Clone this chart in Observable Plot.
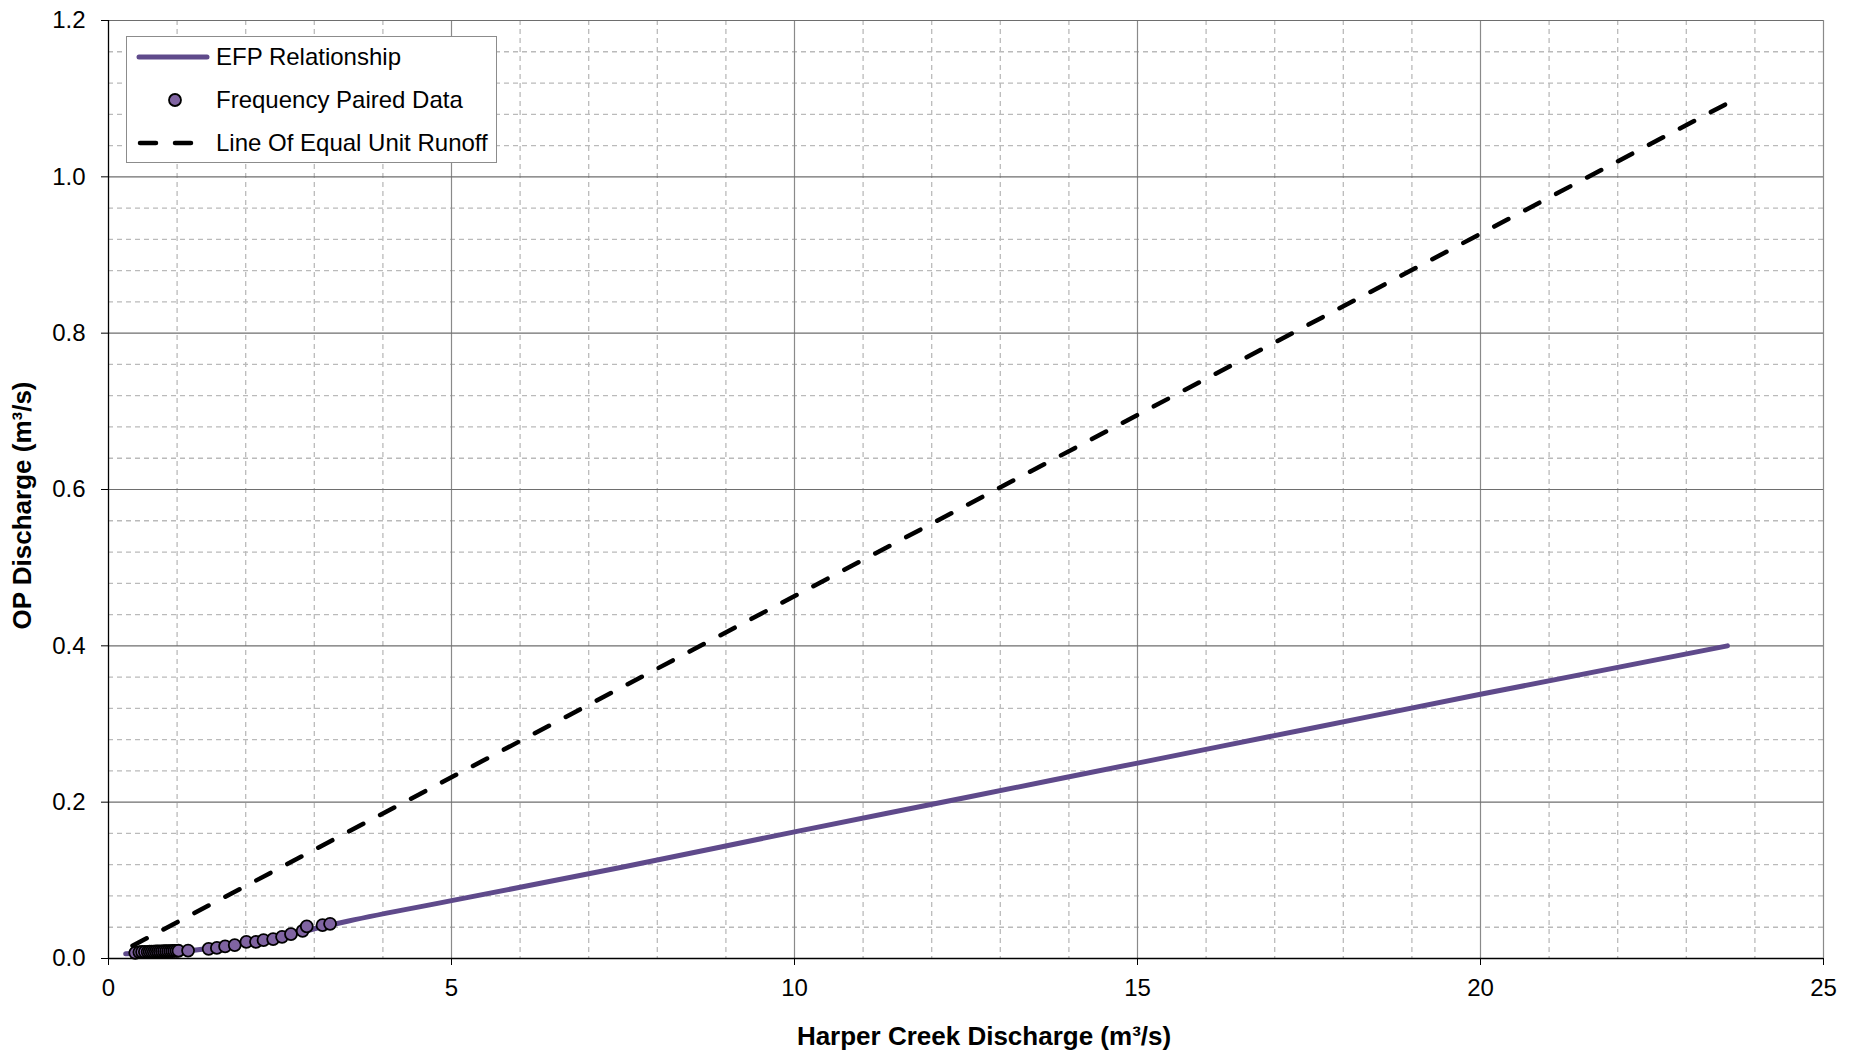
<!DOCTYPE html>
<html>
<head>
<meta charset="utf-8">
<script src="https://cdn.jsdelivr.net/npm/d3@7"></script>
<script src="https://cdn.jsdelivr.net/npm/@observablehq/plot@0.6"></script>
<style>
  html, body { margin: 0; padding: 0; background: #fff; }
  #wrap { position: relative; width: 1854px; height: 1055px; font-family: "Liberation Sans", Arial, sans-serif; }
  #legend { position: absolute; left: 126px; top: 36px; }
</style>
</head>
<body>
<div id="wrap"><div id="chart"></div><div id="legend"></div></div>
<script>
// ---- data ----
const seriesNames = ["EFP Relationship", "Frequency Paired Data", "Line Of Equal Unit Runoff"];

const efpX = [0.25, 0.5, 1.0, 1.5, 2.0, 2.5, 3.0, 3.5, 5, 7.5, 10, 12.5, 15, 17.5, 20, 23.6];
const efpY = [0.006, 0.007, 0.009, 0.013, 0.020, 0.027, 0.038, 0.048, 0.074, 0.117, 0.162, 0.206, 0.250, 0.294, 0.338, 0.400];

const pairedX = [0.39, 0.45, 0.49, 0.53, 0.57, 0.60, 0.63, 0.66, 0.69, 0.72, 0.75, 0.78, 0.81, 0.84, 0.87, 0.90, 0.93, 0.96, 0.99, 1.02, 1.16,
                 1.46, 1.58, 1.70, 1.84, 2.01, 2.15, 2.26, 2.40, 2.53, 2.66, 2.83, 2.89, 3.12, 3.23];
const pairedY = [0.0073, 0.0082, 0.0084, 0.0085, 0.0086, 0.0087, 0.0088, 0.0089, 0.0090, 0.0090, 0.0091, 0.0092, 0.0093, 0.0093, 0.0094, 0.0095, 0.0096, 0.0097, 0.0098, 0.0099, 0.0102,
                 0.0124, 0.0135, 0.0155, 0.0172, 0.0212, 0.0213, 0.0235, 0.0248, 0.0277, 0.0313, 0.0354, 0.0411, 0.0426, 0.0443];

const equalX = [0.35, 23.6];
const equalY = [0.0163, 1.094];

const xMajorTicks = [0, 5, 10, 15, 20, 25];
const yMajorTicks = [0, 0.2, 0.4, 0.6, 0.8, 1.0, 1.2];
const xMinorTicks = [1, 2, 3, 4, 6, 7, 8, 9, 11, 12, 13, 14, 16, 17, 18, 19, 21, 22, 23, 24];
const yMinorTicks = [0.04, 0.08, 0.12, 0.16, 0.24, 0.28, 0.32, 0.36, 0.44, 0.48, 0.52, 0.56, 0.64, 0.68, 0.72, 0.76,
                     0.84, 0.88, 0.92, 0.96, 1.04, 1.08, 1.12, 1.16];

const xTitle = "Harper Creek Discharge (m³/s)";
const yTitle = "OP Discharge (m³/s)";

// ---- tables ----
const efp = efpX.map((x, i) => ({x, y: efpY[i]}));
const paired = pairedX.map((x, i) => ({x, y: pairedY[i]}));
const equal = equalX.map((x, i) => ({x, y: equalY[i]}));

const purpleLine = "#5f4a8b";
const purpleFill = "#8064a2";

const chart = Plot.plot({
  width: 1854,
  height: 1055,
  marginLeft: 108,
  marginRight: 31,
  marginTop: 20,
  marginBottom: 97,
  style: { fontFamily: "'Liberation Sans', Arial, sans-serif", fontSize: "24px", color: "#000", background: "#fff" },
  x: { domain: [0, 25] },
  y: { domain: [0, 1.2] },
  marks: [
    Plot.ruleX(xMinorTicks, { stroke: "#bababa", strokeWidth: 1.3, strokeDasharray: "5,4" }),
    Plot.ruleY(yMinorTicks, { stroke: "#bababa", strokeWidth: 1.3, strokeDasharray: "5,4" }),
    Plot.ruleX(xMajorTicks.filter(d => d > 0), { stroke: "#8a8a8a", strokeWidth: 1.2 }),
    Plot.ruleY(yMajorTicks.filter(d => d > 0), { stroke: "#6e6e6e", strokeWidth: 1.2 }),
    Plot.axisX({ ticks: xMajorTicks, tickSize: 7, tickPadding: 13, label: null, tickFormat: d3.format("d") }),
    Plot.axisY({ ticks: yMajorTicks, tickSize: 7, tickPadding: 16, label: null, tickFormat: d3.format(".1f") }),
    Plot.line(equal, { x: "x", y: "y", stroke: "#000", strokeWidth: 4.5, strokeDasharray: "16,19", strokeLinecap: "round" }),
    Plot.line(efp, { x: "x", y: "y", stroke: purpleLine, strokeWidth: 5, strokeLinecap: "round", curve: "monotone-x" }),
    Plot.dot(paired, { x: "x", y: "y", r: 6, fill: purpleFill, stroke: "#000", strokeWidth: 1.8 }),
    Plot.ruleX([0], { stroke: "#000", strokeWidth: 1.3 }),
    Plot.ruleY([0], { stroke: "#000", strokeWidth: 1.3 }),
    Plot.text([xTitle], { frameAnchor: "bottom", lineAnchor: "middle", textAnchor: "middle", dy: 78, dx: 18, fontWeight: "bold", fontSize: 26, fill: "#000" }),
    Plot.text([yTitle], { frameAnchor: "left", lineAnchor: "middle", textAnchor: "middle", dx: -86, dy: 16, rotate: -90, fontWeight: "bold", fontSize: 26, fill: "#000" })
  ]
});
document.getElementById("chart").appendChild(chart);

// ---- legend ----
const lg = d3.select("#legend").append("svg")
  .attr("width", 372).attr("height", 128)
  .style("font-family", "'Liberation Sans', Arial, sans-serif");
lg.append("rect").attr("x", 0.5).attr("y", 0.5).attr("width", 370).attr("height", 126)
  .attr("fill", "#fff").attr("stroke", "#8c8c8c").attr("stroke-width", 1);
const rows = [21, 64, 107];
lg.append("line").attr("x1", 13).attr("x2", 81).attr("y1", rows[0]).attr("y2", rows[0])
  .attr("stroke", purpleLine).attr("stroke-width", 5).attr("stroke-linecap", "round");
lg.append("circle").attr("cx", 49).attr("cy", rows[1]).attr("r", 6)
  .attr("fill", purpleFill).attr("stroke", "#000").attr("stroke-width", 1.8);
lg.append("line").attr("x1", 14).attr("x2", 67).attr("y1", rows[2]).attr("y2", rows[2])
  .attr("stroke", "#000").attr("stroke-width", 4.5).attr("stroke-dasharray", "16,19").attr("stroke-linecap", "round");
seriesNames.forEach((name, i) => {
  lg.append("text").attr("x", 90).attr("y", rows[i]).attr("dy", "0.35em")
    .attr("font-size", 24).attr("fill", "#000").text(name);
});
</script>
</body>
</html>
